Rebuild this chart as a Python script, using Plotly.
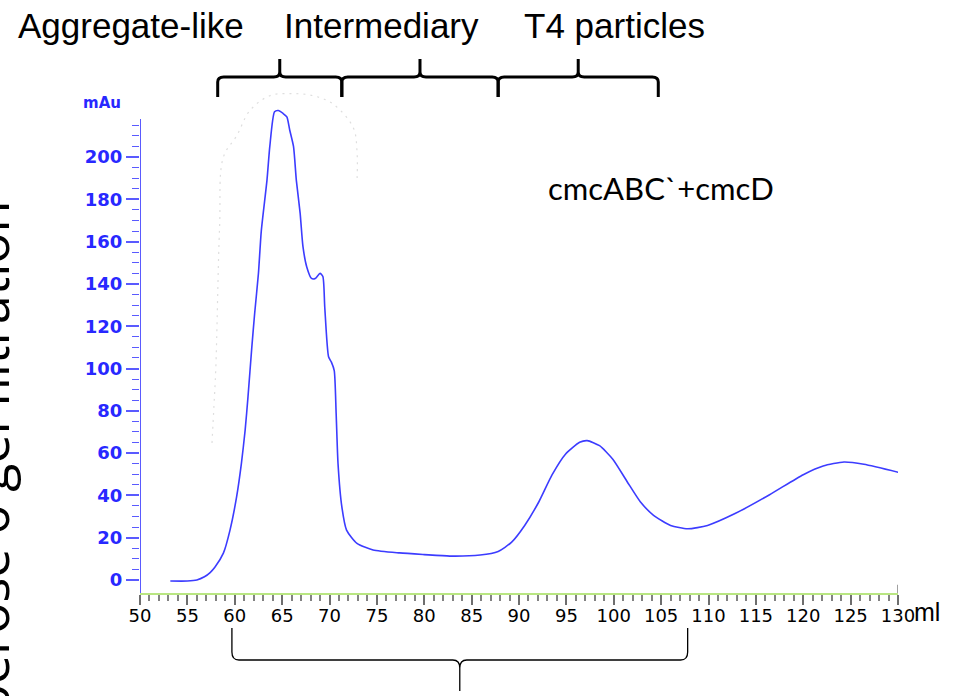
import plotly.graph_objects as go

# ---------------- data ----------------
volume_ml = [53.2, 55.0, 56.0, 56.8, 57.4, 57.9, 58.8, 59.5, 60.2, 60.7, 61.1, 61.4,
             61.8, 62.1, 62.5, 62.8, 63.4, 63.7, 64.2, 64.6, 65.1, 65.5, 65.8, 66.2,
             66.5, 66.9, 67.2, 67.6, 68.1, 68.5, 69.0, 69.3, 69.5, 69.9, 70.2, 70.5,
             70.7, 70.9, 71.3, 71.8, 72.9, 74.6, 77.4, 80.0, 82.7, 85.9, 87.8, 89.2,
             90.6, 92.1, 93.5, 94.9, 96.4, 97.2, 98.5, 99.9, 101.4, 102.8, 104.2,
             106.0, 107.8, 109.9, 112.8, 116.4, 120.0, 122.1, 124.3, 126.4, 130.3]
absorbance_mau = [-0.5, -0.5, 0.0, 1.5, 3.5, 6.0, 12.7, 23.6, 39.4, 55.0, 71.0, 86.7,
                  110.0, 126.0, 145.0, 165.0, 189.0, 205.0, 221.4, 222.0, 220.6, 219.0,
                  212.8, 205.0, 189.0, 173.5, 157.6, 148.0, 142.6, 142.6, 145.0, 143.5,
                  129.0, 105.6, 103.0, 99.0, 79.0, 55.0, 34.7, 23.6, 17.3, 14.2, 12.8,
                  12.0, 11.3, 11.8, 13.5, 17.8, 25.8, 37.0, 49.8, 59.5, 65.1, 65.9, 63.5,
                  57.1, 46.6, 37.0, 30.6, 25.8, 24.2, 25.8, 31.4, 40.2, 49.8, 53.9, 55.8,
                  54.7, 50.6]

# faint dotted ghost trace around the main peak
ghost_ml = [57.6, 57.8, 58.0, 58.4, 58.8, 60.2, 61.6, 63.7, 66.0, 68.3, 70.4, 72.5, 72.9, 72.9]
ghost_mau = [64.8, 82.0, 100.0, 166.9, 200.0, 210.0, 222.0, 229.0, 230.0, 229.0, 225.0, 214.0, 203.0, 187.7]

y_tick_values = [0, 20, 40, 60, 80, 100, 120, 140, 160, 180, 200]
y_minor_values = list(range(0, 220, 5))

region_labels = ["Aggregate-like", "Intermediary", "T4 particles"]
region_bounds_ml = [58.2, 71.3, 87.8, 104.7]
pooled_bounds_ml = [59.7, 107.8]
sample_label = "cmcABC`+cmcD"
side_label = "Superose 6 gel filtration"
y_unit = "mAu"
x_unit = "ml"

# ---------------- layout geometry ----------------
W, H = 959, 696
ML, MR, MT, MB = 140, 61, 90, 103
X_RANGE = [50, 130]
Y_RANGE = [-6.15, 231.7]
PW = W - ML - MR
PH = H - MT - MB
PX_PER_ML = PW / (X_RANGE[1] - X_RANGE[0])


def xp(px):
    return (px - ML) / PW


def yp(py):
    return (H - MB - py) / PH


def brace_path(x0, x1, y_end, y_line, y_tip, rx_px, ry_px):
    xm = (x0 + x1) / 2
    rx = rx_px / PX_PER_ML
    ry = ry_px / PH
    s = 1 if y_end > y_line else -1
    pts = [
        f"M {x0},{y_end}",
        f"L {x0},{y_line + s * ry}",
        f"Q {x0},{y_line} {x0 + rx},{y_line}",
        f"L {xm - rx},{y_line}",
        f"Q {xm},{y_line} {xm},{y_line - s * ry}",
        f"L {xm},{y_tip}",
        f"L {xm},{y_line - s * ry}",
        f"Q {xm},{y_line} {xm + rx},{y_line}",
        f"L {x1 - rx},{y_line}",
        f"Q {x1},{y_line} {x1},{y_line + s * ry}",
        f"L {x1},{y_end}",
    ]
    return " ".join(pts)


BLUE_LINE = "rgb(60,60,255)"
BLUE_AXIS = "rgb(90,90,255)"
BLUE_TEXT = "rgb(40,40,255)"

fig = go.Figure()
fig.add_trace(go.Scatter(x=ghost_ml, y=ghost_mau, mode="lines",
                         line=dict(color="rgb(222,222,222)", width=1.2, dash="2px,5px", shape="spline"),
                         hoverinfo="skip", showlegend=False))
fig.add_trace(go.Scatter(x=volume_ml, y=absorbance_mau, mode="lines",
                         line=dict(color=BLUE_LINE, width=1.6, shape="spline", smoothing=0.6),
                         showlegend=False))

shapes = []
# y axis line (stops at 218 like the original)
shapes.append(dict(type="line", xref="x", yref="y", x0=50, x1=50, y0=Y_RANGE[0], y1=218,
                   line=dict(color=BLUE_AXIS, width=2)))
# right end marker of x axis
shapes.append(dict(type="line", xref="x", yref="y", x0=130, x1=130, y0=Y_RANGE[0], y1=-2.2,
                   line=dict(color="gray", width=1.5)))
# top braces
for i in range(len(region_labels)):
    shapes.append(dict(type="path", xref="x", yref="paper",
                       path=brace_path(region_bounds_ml[i], region_bounds_ml[i + 1],
                                       yp(97), yp(77), yp(59), 6, 5),
                       line=dict(color="black", width=3)))
# bottom brace
shapes.append(dict(type="path", xref="x", yref="paper",
                   path=brace_path(pooled_bounds_ml[0], pooled_bounds_ml[1],
                                   yp(628), yp(660), yp(691), 7, 8),
                   line=dict(color="black", width=1.3)))

label_px = [131, 381, 614]
annotations = []
for lab, px in zip(region_labels, label_px):
    annotations.append(dict(text=lab, xref="paper", yref="paper", x=xp(px), y=yp(25),
                            xanchor="center", yanchor="middle", showarrow=False,
                            font=dict(family="Liberation Sans, Arial", size=35, color="black")))
annotations.append(dict(text=sample_label, xref="paper", yref="paper", x=xp(661), y=yp(188),
                        xanchor="center", yanchor="middle", showarrow=False,
                        font=dict(family="Lato", size=31, color="black")))
annotations.append(dict(text=y_unit, xref="paper", yref="paper", x=xp(102), y=yp(103),
                        xanchor="center", yanchor="middle", showarrow=False,
                        font=dict(family="DejaVu Sans", size=15, color=BLUE_TEXT, weight="bold")))
annotations.append(dict(text=x_unit, xref="paper", yref="paper", x=xp(927), y=yp(612),
                        xanchor="center", yanchor="middle", showarrow=False,
                        font=dict(family="Liberation Sans, Arial", size=25, color="black")))
annotations.append(dict(text=side_label, xref="paper", yref="paper", x=xp(25), y=yp(199),
                        xanchor="right", yanchor="top", textangle=-90, showarrow=False,
                        font=dict(family="Open Sans", size=52, color="black")))

fig.update_layout(
    width=W, height=H,
    margin=dict(l=ML, r=MR, t=MT, b=MB, pad=0),
    paper_bgcolor="white", plot_bgcolor="white",
    shapes=shapes, annotations=annotations,
    showlegend=False,
)
fig.update_xaxes(
    range=X_RANGE, showgrid=False, zeroline=False, automargin=False,
    showline=True, linecolor="rgb(185,230,130)", linewidth=2,
    ticks="outside", ticklen=10, tickwidth=2, tickcolor="rgb(110,110,110)",
    tick0=50, dtick=5, ticklabelstandoff=-5,
    tickfont=dict(family="DejaVu Sans", size=18, color="black"),
    minor=dict(ticks="outside", ticklen=6, tickwidth=1.5, tickcolor="rgb(130,130,130)", dtick=1, tick0=50),
)
fig.update_yaxes(
    range=Y_RANGE, showgrid=False, zeroline=False, automargin=False, showline=False,
    ticks="outside", ticklen=13, tickwidth=1.5, tickcolor=BLUE_AXIS,
    tickmode="array", tickvals=y_tick_values,
    tickfont=dict(family="DejaVu Sans", size=18, color=BLUE_TEXT, weight="bold"),
    minor=dict(ticks="outside", ticklen=7, tickwidth=1.2, tickcolor=BLUE_AXIS,
               tickmode="array", tickvals=y_minor_values),
)

fig.write_html("out.html", config={"displayModeBar": False},
               post_script="document.body.style.margin='0';document.body.style.overflow='hidden';")
